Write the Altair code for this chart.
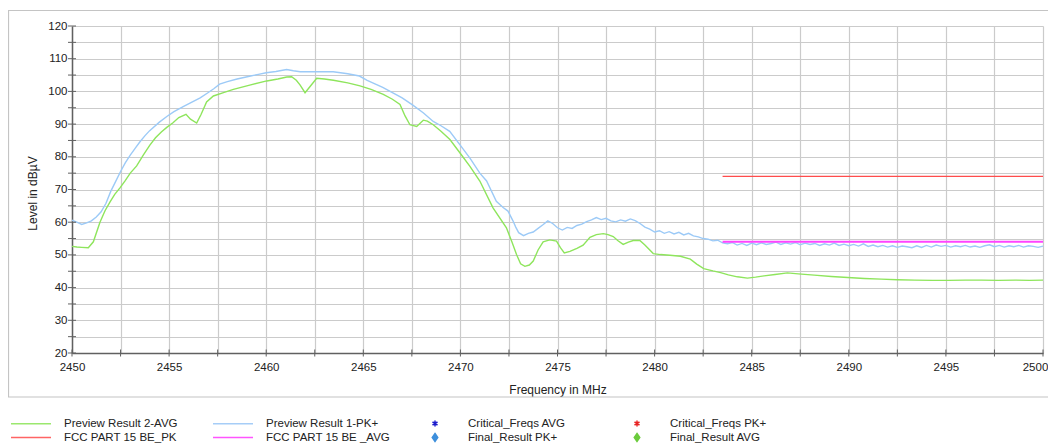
import altair as alt
import pandas as pd

FONT = "Liberation Sans"

# ---- Preview Result 1-PK+ (light blue) ----
BLUE_F = [2450.0, 2450.25, 2450.5, 2450.75, 2451.0, 2451.25, 2451.5, 2451.75, 2452.0, 2452.25,
          2452.5, 2452.75, 2453.0, 2453.25, 2453.5, 2453.75, 2454.0, 2454.5, 2454.9, 2455.25,
          2455.75, 2456.2, 2456.6, 2457.0, 2457.3, 2457.6, 2458.0, 2458.5, 2459.2, 2459.6,
          2460.0, 2460.5, 2461.05, 2461.4, 2461.75, 2462.5, 2463.45, 2464.2, 2464.8, 2465.2,
          2465.6, 2466.0, 2466.5, 2467.0, 2467.55, 2468.1, 2468.6, 2469.0, 2469.45, 2470.0,
          2470.5, 2471.0, 2471.35, 2471.85, 2472.2, 2472.45, 2472.7, 2472.85,
          2473.0, 2473.25, 2473.5, 2473.75, 2474.0, 2474.25, 2474.5, 2474.75, 2475.0, 2475.25,
          2475.5, 2475.75, 2476.0, 2476.25, 2476.5, 2476.75, 2477.0, 2477.25, 2477.5, 2477.75,
          2478.0, 2478.25, 2478.5, 2478.75, 2479.0, 2479.25, 2479.5, 2479.75, 2480.0, 2480.25,
          2480.5, 2480.75, 2481.0, 2481.25, 2481.5, 2481.75, 2482.0, 2482.25, 2482.5, 2482.75,
          2483.0, 2483.25, 2483.5, 2483.75, 2484.0, 2484.25, 2484.5, 2484.75, 2485.0, 2485.25,
          2485.5, 2485.75, 2486.0, 2486.25, 2486.5, 2486.75, 2487.0, 2487.25, 2487.5, 2487.75,
          2488.0, 2488.25, 2488.5, 2488.75, 2489.0, 2489.25, 2489.5, 2489.75, 2490.0, 2490.25,
          2490.5, 2490.75, 2491.0, 2491.25, 2491.5, 2491.75, 2492.0, 2492.25, 2492.5, 2492.75,
          2493.0, 2493.25, 2493.5, 2493.75, 2494.0, 2494.25, 2494.5, 2494.75, 2495.0, 2495.25,
          2495.5, 2495.75, 2496.0, 2496.25, 2496.5, 2496.75, 2497.0, 2497.25, 2497.5, 2497.75,
          2498.0, 2498.25, 2498.5, 2498.75, 2499.0, 2499.25, 2499.5, 2499.75, 2500.0]
BLUE_V = [60.6, 60.0, 59.3, 59.8, 60.4, 61.6, 63.2, 65.8, 69.5, 72.5,
          75.5, 78.2, 80.5, 82.6, 84.6, 86.4, 88.0, 90.6, 92.4, 93.8,
          95.4, 96.8, 98.0, 99.6, 100.8, 102.2, 103.0, 103.8, 104.7, 105.2,
          105.7, 106.1, 106.7, 106.3, 106.0, 106.0, 106.0, 105.4, 104.7, 103.4,
          102.3, 101.2, 99.6, 98.0, 95.8, 93.4, 90.8, 89.5, 87.8, 83.5,
          79.5, 75.0, 72.6, 66.4, 64.5, 63.4, 60.5, 58.5,
          56.8, 55.9, 56.6, 57.0, 58.1, 59.2, 60.4, 59.6, 58.3, 57.6,
          58.4, 58.1, 59.0, 59.4, 60.2, 60.7, 61.4, 60.8, 61.2, 60.4,
          60.1, 60.7, 60.3, 61.0, 60.5, 59.6, 58.5, 57.9, 57.0, 57.4,
          56.6, 57.1, 56.4, 56.9, 56.1, 56.6, 55.8, 55.5, 55.0, 54.8,
          54.3, 54.5, 53.7, 53.4, 53.8, 53.0, 53.5, 52.9, 53.6, 53.1,
          53.7, 53.2, 53.5, 53.9, 53.2, 53.7, 53.3, 53.8, 53.1, 53.6,
          53.2, 53.5, 52.9, 53.4, 53.0, 53.6, 52.9, 53.3, 52.8, 53.2,
          52.7, 53.4, 52.6, 53.0, 52.5, 52.9, 52.4, 52.8, 52.3, 52.7,
          52.5, 52.2, 52.8, 52.3, 52.9, 52.4, 53.0, 52.6, 52.9, 52.4,
          52.8, 52.5, 52.9, 52.4, 52.7, 52.3, 52.8, 53.1, 52.5, 52.9,
          52.4, 52.8, 52.5, 52.9, 52.4, 52.8, 52.6, 52.3, 52.7]

# ---- Preview Result 2-AVG (light green) ----
GREEN_F = [2450.0, 2450.25, 2450.5, 2450.84, 2451.1, 2451.44, 2451.7, 2451.96, 2452.2, 2452.47,
           2452.75, 2453.0, 2453.33, 2453.67, 2454.0, 2454.3, 2454.6, 2454.88, 2455.2, 2455.5,
           2455.87, 2456.1, 2456.42, 2456.65, 2456.93, 2457.28, 2457.8, 2458.31, 2459.2, 2460.03,
           2460.6, 2461.06, 2461.31, 2461.55, 2461.74, 2462.0, 2462.26, 2462.6, 2463.0, 2463.46,
           2464.2, 2464.83, 2465.4, 2466.03, 2466.5, 2466.89, 2467.15, 2467.4, 2467.75, 2468.09,
           2468.3, 2468.6, 2469.0, 2469.46, 2470.0, 2470.5, 2471.0, 2471.68, 2472.37, 2472.65,
           2472.89, 2473.1, 2473.32, 2473.55, 2473.75, 2474.0, 2474.26, 2474.6, 2474.95, 2475.15,
           2475.35, 2475.64, 2476.0, 2476.32, 2476.67, 2477.0, 2477.36, 2477.6, 2477.87, 2478.1,
           2478.38, 2478.65, 2478.9, 2479.24, 2479.5, 2479.93, 2480.3, 2480.79, 2481.33, 2481.84,
           2482.17, 2482.53, 2483.0, 2483.4, 2483.8, 2484.26, 2484.78, 2485.2, 2485.64, 2486.2,
           2486.84, 2487.4, 2488.22, 2489.1, 2489.95, 2490.8, 2491.67, 2492.5, 2493.4, 2494.3,
           2495.12, 2496.0, 2496.84, 2497.7, 2498.57, 2499.3, 2500.0]
GREEN_V = [52.6, 52.4, 52.3, 52.2, 54.0, 60.0, 63.5, 66.2, 68.5, 70.5,
           72.8, 75.0, 77.2, 80.5, 83.5, 85.8, 87.6, 89.0, 90.4, 92.0,
           93.0, 91.5, 90.3, 93.0, 96.8, 98.6, 99.6, 100.6, 102.0, 103.2,
           103.8, 104.4, 104.5, 103.4, 102.0, 99.6, 101.5, 104.0, 103.8, 103.4,
           102.6, 101.7, 100.6, 99.1, 97.6, 96.0, 92.5, 89.8, 89.3, 91.2,
           90.9, 89.8, 87.8, 85.3, 81.0, 77.0, 72.6, 64.4, 58.3, 54.0,
           50.1, 47.3, 46.5, 46.9, 48.1, 51.5, 54.0, 54.6, 54.2, 52.2,
           50.6, 51.1, 52.0, 53.0, 55.4, 56.2, 56.5, 56.2, 55.6, 54.4,
           53.2, 53.9, 54.4, 54.4, 53.0, 50.4, 50.1, 49.9, 49.6, 48.7,
           47.2, 45.8, 45.1, 44.6, 43.9, 43.3, 42.9, 43.2, 43.6, 44.0,
           44.5, 44.2, 43.8, 43.4, 43.1, 42.8, 42.6, 42.4, 42.3, 42.2,
           42.2, 42.3, 42.3, 42.2, 42.3, 42.2, 42.3]

# ---- Limit lines ----
LIMIT_F = [2483.5, 2500.0]
LIMIT_PK = [74.0, 74.0]
LIMIT_AVG = [54.0, 54.0]

# ---- Axes ----
X_TICKS = [2450, 2452.5, 2455, 2457.5, 2460, 2462.5, 2465, 2467.5, 2470, 2472.5, 2475,
           2477.5, 2480, 2482.5, 2485, 2487.5, 2490, 2492.5, 2495, 2497.5, 2500]
Y_TICKS = [20, 25, 30, 35, 40, 45, 50, 55, 60, 65, 70, 75, 80, 85, 90, 95, 100, 105, 110, 115, 120]

# ---- Legend ----
LEGEND_NAMES = ["Preview Result 2-AVG", "Preview Result 1-PK+", "Critical_Freqs AVG", "Critical_Freqs PK+",
                "FCC PART 15 BE_PK", "FCC PART 15 BE _AVG", "Final_Result PK+", "Final_Result AVG"]
LEGEND_COLORS = ["#9be86e", "#a6cdf7", "#1c1ccc", "#e82424",
                 "#ff6464", "#ff55ff", "#3d8fdc", "#6bcb3c"]
LINE_PATH = "M-4,0L4,0"
STAR_PATH = "M0,-0.6L0,0.6M-0.5,-0.3L0.5,0.3M-0.5,0.3L0.5,-0.3"
DIAMOND_PATH = "M0,-0.8L0.55,0L0,0.8L-0.55,0Z"
LEGEND_SHAPES = [LINE_PATH, LINE_PATH, STAR_PATH, STAR_PATH,
                 LINE_PATH, LINE_PATH, DIAMOND_PATH, DIAMOND_PATH]

GREEN = "#8ee55c"
BLUE = "#9ccaf7"
RED = "#ff4c4c"
MAGENTA = "#ff44ff"
AXIS_GRAY = "#606060"

blue_df = pd.DataFrame({"f": BLUE_F, "v": BLUE_V})
green_df = pd.DataFrame({"f": GREEN_F, "v": GREEN_V})
pk_df = pd.DataFrame({"f": LIMIT_F, "v": LIMIT_PK})
avg_df = pd.DataFrame({"f": LIMIT_F, "v": LIMIT_AVG})
leg_df = pd.DataFrame({"name": LEGEND_NAMES, "f": [None] * 8, "v": [None] * 8})
xt_df = pd.DataFrame({"f": X_TICKS})
yt_df = pd.DataFrame({"v": Y_TICKS})

x_axis = alt.Axis(
    values=X_TICKS,
    labelExpr="datum.value % 5 == 0 ? format(datum.value, 'd') : ''",
    labelOffset={"condition": {"test": "datum.value >= 2500", "value": -8}, "value": 0},
    title="Frequency in MHz",
    grid=True, gridColor="#cbcbcb", gridWidth=1.2,
    domainColor=AXIS_GRAY, domainWidth=1.5,
    ticks=False,
    labelFont=FONT, labelFontSize=11.5, labelColor="#222222", labelPadding=8,
    labelFlush=False, labelOverlap=False,
    titleFont=FONT, titleFontSize=12, titleFontWeight="normal", titleColor="#222222",
    titleX=485.5, titleY=36, titleAlign="center", titleBaseline="middle",
)
y_axis = alt.Axis(
    values=Y_TICKS,
    labelExpr="datum.value % 10 == 0 ? format(datum.value, 'd') : ''",
    title="Level in dBµV",
    grid=True, gridColor="#cbcbcb", gridWidth=1.2,
    domainColor=AXIS_GRAY, domainWidth=1.5,
    ticks=False,
    labelFont=FONT, labelFontSize=11.5, labelColor="#222222", labelPadding=5,
    labelOverlap=False,
    titleFont=FONT, titleFontSize=12, titleFontWeight="normal", titleColor="#222222",
    titleAngle=270, titleX=-39.5, titleY=167, titleAlign="center", titleBaseline="middle",
)

X = alt.X("f:Q", scale=alt.Scale(domain=[2450, 2500], nice=False, zero=False), axis=x_axis)
Y = alt.Y("v:Q", scale=alt.Scale(domain=[20, 120], nice=False, zero=False), axis=y_axis)

frame = alt.Chart(alt.Data(values=[{"a": 1}])).mark_rect(
    fillOpacity=0, stroke="#c4c4c4", strokeWidth=1.2
).encode(x=alt.value(-63.5), x2=alt.value(1000), y=alt.value(-15.5), y2=alt.value(371))

blue_line = alt.Chart(blue_df).mark_line(color=BLUE, strokeWidth=1.4).encode(x=X, y=Y)
green_line = alt.Chart(green_df).mark_line(color=GREEN, strokeWidth=1.4).encode(x=X, y=Y)
avg_line = alt.Chart(avg_df).mark_line(color=MAGENTA, strokeWidth=2).encode(x=X, y=Y)
pk_line = alt.Chart(pk_df).mark_line(color=RED, strokeWidth=1.2).encode(x=X, y=Y)

# tick marks that cross the axis lines (as in the reference)
x_ticks = alt.Chart(xt_df).mark_tick(
    orient="vertical", size=7, thickness=1, color=AXIS_GRAY, opacity=1
).encode(x=X, y=alt.value(327))
y_ticks = alt.Chart(yt_df).mark_tick(
    orient="horizontal", size=8, thickness=1, color=AXIS_GRAY, opacity=1
).encode(y=Y, x=alt.value(0))

leg = alt.Legend(
    title=None, orient="none", legendX=-47, legendY=391, columns=4, direction="horizontal",
    gridAlign="all", columnPadding=22, rowPadding=0.5, symbolSize=100, symbolStrokeWidth=1.5,
    labelOffset=27, labelFont=FONT, labelFontSize=11.5, labelColor="#222222",
    padding=0, symbolOpacity=1,
)
legend_layer = alt.Chart(leg_df).mark_point(filled=True).encode(
    x=X, y=Y,
    fill=alt.Fill("name:N", scale=alt.Scale(domain=LEGEND_NAMES, range=LEGEND_COLORS), legend=leg),
    stroke=alt.Stroke("name:N", scale=alt.Scale(domain=LEGEND_NAMES, range=LEGEND_COLORS), legend=leg),
    shape=alt.Shape("name:N", scale=alt.Scale(domain=LEGEND_NAMES, range=LEGEND_SHAPES), legend=leg),
)

chart = alt.layer(frame, green_line, blue_line, avg_line, pk_line, x_ticks, y_ticks,
                  legend_layer).properties(
    width=971, height=327,
    autosize=alt.AutoSizeParams(type="none"),
    padding={"left": 64, "top": 18, "right": 5, "bottom": 91},
    background="white",
).configure_view(stroke=None)

chart.save("out.html", embed_options={"renderer": "svg", "actions": False})
